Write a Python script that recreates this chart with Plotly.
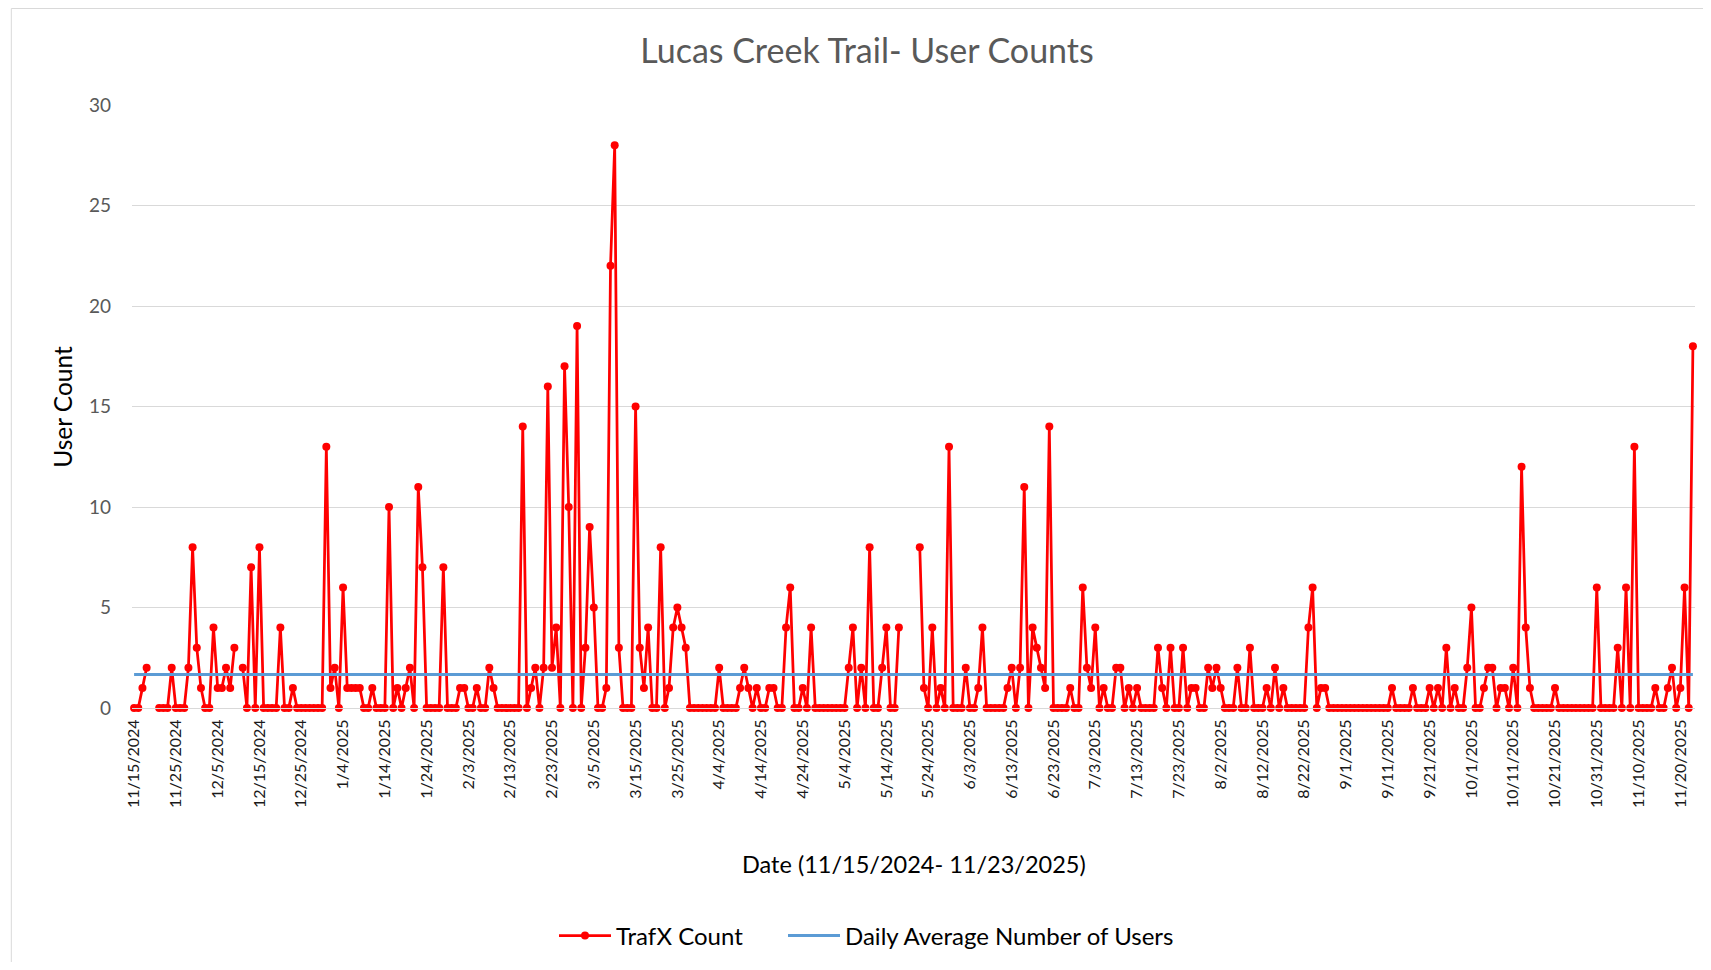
import plotly.graph_objects as go
import pandas as pd

start_date = "2024-11-15"
# Daily TrafX counts, 11/15/2024 .. 11/23/2025 (None = no data)
counts = [
    0, 0, 1, 2, None, None, 0, 0, 0, 2,          # d0-9
    0, 0, 0, 2, 8, 3, 1, 0, 0, 4,                # d10-19
    1, 1, 2, 1, 3, None, 2, 0, 7, 0,             # d20-29
    8, 0, 0, 0, 0, 4, 0, 0, 1, 0,                # d30-39
    0, 0, 0, 0, 0, 0, 13, 1, 2, 0,               # d40-49
    6, 1, 1, 1, 1, 0, 0, 1, 0, 0,                # d50-59
    0, 10, 0, 1, 0, 1, 2, 0, 11, 7,              # d60-69
    0, 0, 0, 0, 7, 0, 0, 0, 1, 1,                # d70-79
    0, 0, 1, 0, 0, 2, 1, 0, 0, 0,                # d80-89
    0, 0, 0, 14, 0, 1, 2, 0, 2, 16,              # d90-99
    2, 4, 0, 17, 10, 0, 19, 0, 3, 9,             # d100-109
    5, 0, 0, 1, 22, 28, 3, 0, 0, 0,              # d110-119
    15, 3, 1, 4, 0, 0, 8, 0, 1, 4,               # d120-129
    5, 4, 3, 0, 0, 0, 0, 0, 0, 0,                # d130-139
    2, 0, 0, 0, 0, 1, 2, 1, 0, 1,                # d140-149
    0, 0, 1, 1, 0, 0, 4, 6, 0, 0,                # d150-159
    1, 0, 4, 0, 0, 0, 0, 0, 0, 0,                # d160-169
    0, 2, 4, 0, 2, 0, 8, 0, 0, 2,                # d170-179
    4, 0, 0, 4, None, None, None, None, 8, 1,    # d180-189
    0, 4, 0, 1, 0, 13, 0, 0, 0, 2,               # d190-199
    0, 0, 1, 4, 0, 0, 0, 0, 0, 1,                # d200-209
    2, 0, 2, 11, 0, 4, 3, 2, 1, 14,              # d210-219
    0, 0, 0, 0, 1, 0, 0, 6, 2, 1,                # d220-229
    4, 0, 1, 0, 0, 2, 2, 0, 1, 0,                # d230-239
    1, 0, 0, 0, 0, 3, 1, 0, 3, 0,                # d240-249
    0, 3, 0, 1, 1, 0, 0, 2, 1, 2,                # d250-259
    1, 0, 0, 0, 2, 0, 0, 3, 0, 0,                # d260-269
    0, 1, 0, 2, 0, 1, 0, 0, 0, 0,                # d270-279
    0, 4, 6, 0, 1, 1, 0, 0, 0, 0,                # d280-289
    0, 0, 0, 0, 0, 0, 0, 0, 0, 0,                # d290-299
    0, 1, 0, 0, 0, 0, 1, 0, 0, 0,                # d300-309
    1, 0, 1, 0, 3, 0, 1, 0, 0, 2,                # d310-319
    5, 0, 0, 1, 2, 2, 0, 1, 1, 0,                # d320-329
    2, 0, 12, 4, 1, 0, 0, 0, 0, 0,               # d330-339
    1, 0, 0, 0, 0, 0, 0, 0, 0, 0,                # d340-349
    6, 0, 0, 0, 0, 3, 0, 6, 0, 13,               # d350-359
    0, 0, 0, 0, 1, 0, 0, 1, 2, 0,                # d360-369
    1, 6, 0, 18,                                 # d370-373
]
daily_average = 1.67

tick_labels = [
    "11/15/2024", "11/25/2024", "12/5/2024", "12/15/2024", "12/25/2024",
    "1/4/2025", "1/14/2025", "1/24/2025", "2/3/2025", "2/13/2025",
    "2/23/2025", "3/5/2025", "3/15/2025", "3/25/2025", "4/4/2025",
    "4/14/2025", "4/24/2025", "5/4/2025", "5/14/2025", "5/24/2025",
    "6/3/2025", "6/13/2025", "6/23/2025", "7/3/2025", "7/13/2025",
    "7/23/2025", "8/2/2025", "8/12/2025", "8/22/2025", "9/1/2025",
    "9/11/2025", "9/21/2025", "10/1/2025", "10/11/2025", "10/21/2025",
    "10/31/2025", "11/10/2025", "11/20/2025",
]

dates = pd.date_range(start_date, periods=len(counts), freq="D")
tick_dates = list(dates[::10])

# page body has an 8px margin: figure coords = screen coords - 8
OFF = 8
W, H = 1711 - 2 * OFF, 970 - 2 * OFF
L = 131.7 - OFF
T = 105 - OFF
PLOT_RIGHT = 1694.7 - OFF
PLOT_BOTTOM = 708 - OFF
R = W - PLOT_RIGHT
B = H - PLOT_BOTTOM
PW, PH = PLOT_RIGHT - L, PLOT_BOTTOM - T
FONT = "Lato"


def px_x(screen_x):
    return (screen_x - OFF - L) / PW


def px_y(screen_y):
    return (PLOT_BOTTOM - (screen_y - OFF)) / PH


fig = go.Figure()
fig.add_trace(go.Scatter(
    x=dates, y=counts, mode="lines+markers", name="TrafX Count",
    line=dict(color="#FF0000", width=2.75),
    marker=dict(size=8, color="#FF0000"),
    connectgaps=False, cliponaxis=False, legend="legend",
))
fig.add_trace(go.Scatter(
    x=dates, y=[daily_average] * len(dates), mode="lines",
    name="Daily Average Number of Users",
    line=dict(color="#5B9BD5", width=3), cliponaxis=False, legend="legend2",
))

legend_common = dict(orientation="h", xref="container", yref="container",
                     xanchor="left", y=1 - (936 - OFF) / H, yanchor="middle",
                     font=dict(size=24, color="#000000", family=FONT),
                     itemwidth=52, bgcolor="rgba(0,0,0,0)")

fig.update_layout(
    width=W, height=H,
    margin=dict(l=L, r=R, t=T, b=B, autoexpand=False),
    paper_bgcolor="white", plot_bgcolor="white",
    font=dict(family=FONT, color="#000000"),
    title=dict(text="Lucas Creek Trail- User Counts",
               x=(867 - OFF) / W, xref="container", xanchor="center",
               y=1 - (51 - OFF) / H, yref="container", yanchor="middle",
               font=dict(size=34, color="#595959", family=FONT)),
    xaxis=dict(
        type="date",
        range=[dates[0] - pd.Timedelta(hours=12), dates[-1] + pd.Timedelta(hours=12)],
        tickmode="array", tickvals=tick_dates, ticktext=tick_labels,
        tickangle=-90, tickfont=dict(size=16, color="#1a1a1a", family=FONT),
        showgrid=False, showline=True, linecolor="#d9d9d9", linewidth=1,
        zeroline=False, ticks="", ticklabelstandoff=4,
    ),
    yaxis=dict(
        range=[0, 30], dtick=5, tick0=0,
        tickfont=dict(size=19, color="#595959", family=FONT),
        showgrid=True, gridcolor="#d9d9d9", gridwidth=1,
        zeroline=False, showline=False, ticks="", ticklabelstandoff=20,
    ),
    showlegend=True,
    legend=dict(legend_common, x=(554 - OFF) / W),
    legend2=dict(legend_common, x=(783 - OFF) / W),
    annotations=[
        dict(text="Date (11/15/2024- 11/23/2025)", xref="paper", yref="paper",
             x=0.5, y=px_y(864), xanchor="center", yanchor="middle", showarrow=False,
             font=dict(size=23.5, color="#000000", family=FONT)),
        dict(text="User Count", xref="paper", yref="paper",
             x=px_x(62), y=0.5, xanchor="center", yanchor="middle", showarrow=False,
             textangle=-90, font=dict(size=24.5, color="#000000", family=FONT)),
    ],
    shapes=[
        dict(type="line", xref="paper", yref="paper", x0=px_x(11), x1=px_x(1720),
             y0=px_y(8.5), y1=px_y(8.5), line=dict(color="#d9d9d9", width=1)),
        dict(type="line", xref="paper", yref="paper", x0=px_x(11), x1=px_x(11),
             y0=px_y(8.5), y1=px_y(980), line=dict(color="#d9d9d9", width=1)),
    ],
)

fig.write_html("out.html")
